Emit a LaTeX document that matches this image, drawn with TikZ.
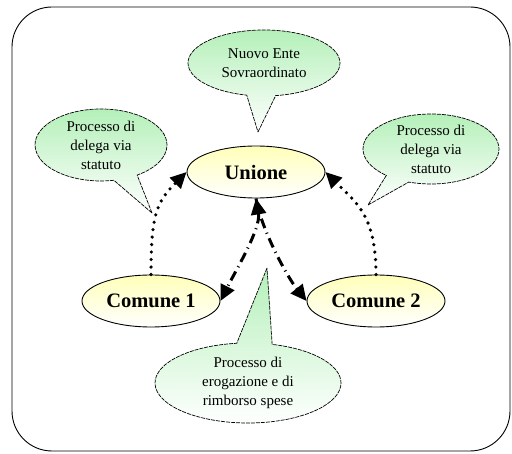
\documentclass[tikz,border=0pt]{standalone}
\usepackage{fontspec}
\setmainfont{Liberation Serif}
\usetikzlibrary{shapes.geometric,shapes.callouts,arrows.meta}
\begin{document}
\begin{tikzpicture}[x=1pt,y=-1pt,
  ent/.style={ellipse,draw=black,line width=0.9pt,
    top color={rgb,255:red,255;green,255;blue,185},bottom color=white,
    font=\fontsize{20.5}{24}\selectfont\bfseries,
    minimum width=138pt,minimum height=52pt,inner sep=0pt},
  bubble/.style={ellipse callout,draw=black,line width=0.7pt,dash pattern=on 4pt off 1pt,
    top color={rgb,255:red,180;green,240;blue,185},bottom color=white,
    font=\fontsize{15}{19}\selectfont,align=center,inner sep=0pt,callout pointer arc=22},
  dotarrow/.style={line width=3.6pt,dash pattern=on 0pt off 7.5pt,line cap=round,-{Triangle[length=16pt,width=15pt]}},
  dasharrow/.style={line width=3pt,dash pattern=on 10pt off 5pt on 1pt off 5pt}
]
\useasboundingbox (0,0) rectangle (512,454);
\draw[line width=0.9pt,rounded corners=40pt] (12,7) rectangle (510,451);

\node[ent] (u) at (256,172) {Unione};
\node[ent] (c1) at (151,301) {Comune 1};
\node[ent] (c2) at (376,301) {Comune 2};

\node[bubble,minimum width=152pt,minimum height=66pt,callout absolute pointer={(258,132)}] (b1) at (264,63) {Nuovo Ente\\Sovraordinato};
\node[bubble,minimum width=132pt,minimum height=72pt,callout absolute pointer={(152,213)}] (b2) at (101,145) {Processo di\\delega via\\statuto};
\node[bubble,minimum width=136pt,minimum height=70pt,callout absolute pointer={(368,205)}] (b3) at (431,149) {Processo di\\delega via\\statuto};
\node[bubble,minimum width=186pt,minimum height=80pt,callout absolute pointer={(267,268)}] (b4) at (248,383) {Processo di\\erogazione e di\\rimborso spese};

\draw[dotarrow] (c1.north) .. controls +(0,-60) and +(-30,30) .. (u.west);
\draw[dotarrow] (c2.north) .. controls +(0,-60) and +(30,30) .. (u.east);
\draw[dasharrow,{Triangle[length=16pt,width=15pt]}-{Triangle[length=16pt,width=15pt]}] (u.south) .. controls +(5,30) and +(15,-30) .. (c1.east);
\draw[dasharrow,-{Triangle[length=16pt,width=15pt]}] (u.south) .. controls +(5,30) and +(-20,-25) .. (c2.west);
\end{tikzpicture}
\end{document}
